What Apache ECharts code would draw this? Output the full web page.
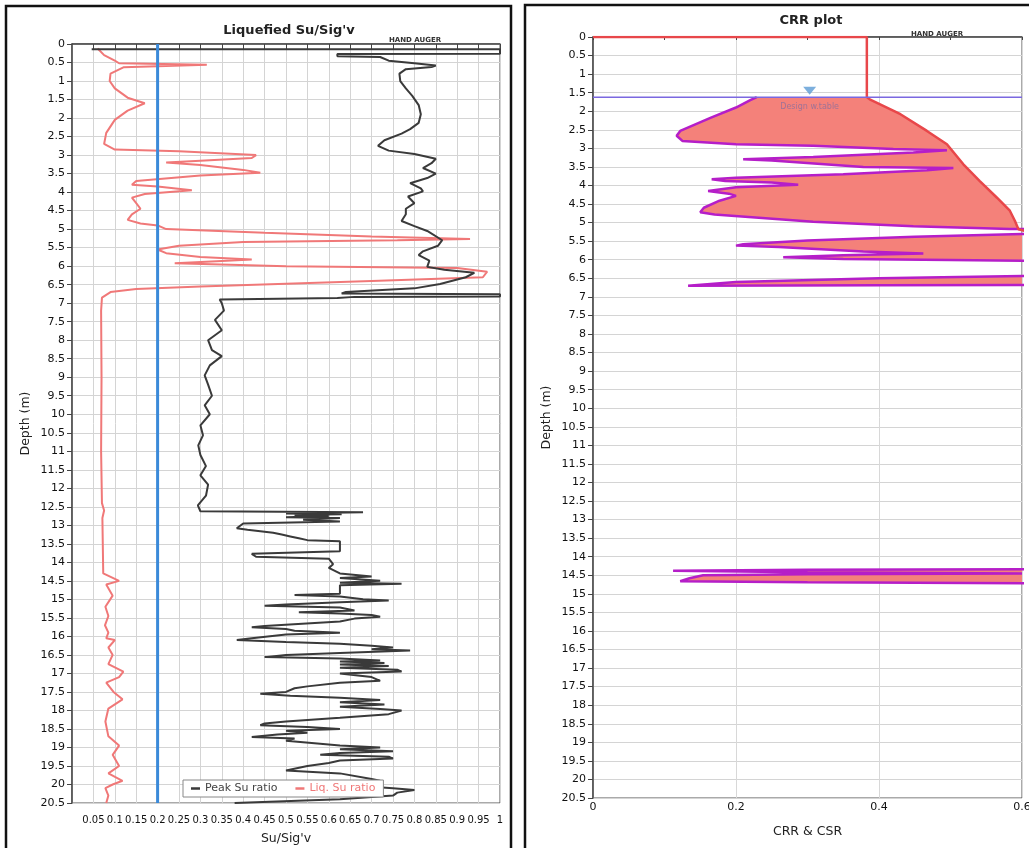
<!DOCTYPE html>
<html>
<head>
<meta charset="utf-8">
<title>Liquefied Su/Sig'v - CRR plot</title>
<script src="https://cdn.jsdelivr.net/npm/echarts@6/dist/echarts.min.js"></script>
<style>
html, body { margin: 0; padding: 0; background: #fff; }
#chart { width: 1029px; height: 848px; }
</style>
</head>
<body>
<div id="chart"></div>
<script>
/*** Liquefied Su/Sig'v + CRR plot ***/
// left chart: peak Su ratio (depth m, ratio)
var peakSuDepth = [0.14, 0.14, 0.26, 0.27, 0.33, 0.35, 0.45, 0.52, 0.58, 0.62, 0.68, 0.8, 1.0, 1.2, 1.4, 1.65, 1.9, 2.13, 2.3, 2.42, 2.6, 2.75, 2.88, 2.97, 3.1, 3.22, 3.35, 3.5, 3.62, 3.76, 3.9, 3.98, 4.12, 4.3, 4.45, 4.6, 4.78, 4.92, 5.05, 5.3, 5.45, 5.6, 5.7, 5.85, 6.02, 6.1, 6.18, 6.3, 6.48, 6.6, 6.7, 6.74, 6.76, 6.82, 6.83, 6.86, 6.9,
	7.0, 7.2, 7.45, 7.73, 8.0, 8.27, 8.43, 8.68, 8.95, 9.2, 9.5, 9.76, 10.0, 10.3, 10.57, 10.84, 11.1, 11.4, 11.65, 11.9, 12.2, 12.46, 12.62,
	12.65, 12.68, 12.7, 12.72, 12.75, 12.78, 12.8, 12.85, 12.9, 12.95, 13.08, 13.12, 13.2, 13.25, 13.3, 13.35, 13.4, 13.43, 13.7, 13.77, 13.85, 13.9, 14.05, 14.15, 14.3,
	14.38, 14.42, 14.5, 14.55, 14.58, 14.62, 14.85, 14.88, 14.92, 15.0, 15.03, 15.08, 15.14, 15.17, 15.22, 15.3, 15.35, 15.38, 15.42, 15.47, 15.52, 15.6,
	15.72, 15.75, 15.8, 15.85, 15.9, 15.95, 16.05, 16.1, 16.15, 16.2, 16.25, 16.3, 16.35, 16.38, 16.45, 16.5, 16.56, 16.6, 16.65, 16.68, 16.72, 16.76, 16.8, 16.85, 16.9, 16.95, 17.0,
	17.1, 17.2, 17.25, 17.35, 17.4, 17.5, 17.55, 17.6, 17.66, 17.72, 17.78, 17.84, 17.9, 17.96, 18.0, 18.1, 18.2, 18.3, 18.35, 18.4, 18.45, 18.5, 18.55, 18.6, 18.65, 18.72, 18.76, 18.82, 18.88, 18.95,
	19.0, 19.05, 19.1, 19.15, 19.2, 19.25, 19.3, 19.35, 19.42, 19.5, 19.62, 19.7, 19.85, 19.9, 20.0, 20.1, 20.15, 20.22, 20.3, 20.4, 20.5];
var peakSuRatio = [0.046, 1.0, 1.0, 0.62, 0.62, 0.72, 0.74, 0.8, 0.85, 0.84, 0.78, 0.765, 0.767, 0.78, 0.795, 0.81, 0.815, 0.81, 0.79, 0.77, 0.73, 0.715, 0.74, 0.8, 0.85, 0.84, 0.82, 0.85, 0.83, 0.79, 0.815, 0.82, 0.785, 0.8, 0.78, 0.78, 0.77, 0.8, 0.83, 0.865, 0.855, 0.82, 0.81, 0.835, 0.83, 0.87, 0.94, 0.92, 0.86, 0.8, 0.64, 0.63, 1.0, 1.0, 0.66, 0.62, 0.345,
	0.35, 0.355, 0.334, 0.35, 0.318, 0.327, 0.35, 0.322, 0.31, 0.318, 0.327, 0.31, 0.322, 0.3, 0.306, 0.295, 0.3, 0.313, 0.3, 0.318, 0.313, 0.294, 0.3,
	0.68, 0.5, 0.63, 0.52, 0.6, 0.5, 0.626, 0.54, 0.626, 0.4, 0.385, 0.41, 0.47, 0.49, 0.51, 0.53, 0.55, 0.626, 0.626, 0.42, 0.43, 0.6, 0.61, 0.6, 0.626,
	0.7, 0.626, 0.72, 0.626, 0.77, 0.626, 0.626, 0.52, 0.626, 0.68, 0.74, 0.626, 0.5, 0.45, 0.626, 0.66, 0.53, 0.626, 0.7, 0.72, 0.66, 0.626,
	0.45, 0.42, 0.5, 0.52, 0.626, 0.5, 0.42, 0.385, 0.5, 0.626, 0.7, 0.75, 0.7, 0.79, 0.626, 0.5, 0.45, 0.626, 0.72, 0.626, 0.73, 0.626, 0.74, 0.626, 0.76, 0.77, 0.626,
	0.7, 0.72, 0.626, 0.55, 0.52, 0.5, 0.44, 0.51, 0.626, 0.72, 0.626, 0.73, 0.626, 0.72, 0.77, 0.74, 0.626, 0.5, 0.45, 0.44, 0.55, 0.626, 0.5, 0.55, 0.48, 0.42, 0.52, 0.5, 0.56, 0.626,
	0.72, 0.626, 0.75, 0.626, 0.58, 0.74, 0.75, 0.626, 0.6, 0.55, 0.5, 0.626, 0.7, 0.72, 0.626, 0.75, 0.8, 0.76, 0.75, 0.626, 0.38];
// left chart: liquefied Su ratio
var liqSuDepth = [0.12, 0.3, 0.45, 0.52, 0.56, 0.6, 0.63, 0.8, 1.0, 1.2, 1.45, 1.6, 1.8, 2.05, 2.4, 2.7, 2.85, 2.9, 3.0, 3.08, 3.15, 3.2, 3.27, 3.4, 3.48, 3.55, 3.7, 3.8, 3.85, 3.95, 4.05, 4.15, 4.3, 4.45, 4.6, 4.75, 4.85, 4.9, 5.0, 5.1, 5.2, 5.27, 5.3, 5.35, 5.45, 5.55, 5.65, 5.75, 5.82, 5.86, 5.92, 6.0, 6.05, 6.15, 6.3, 6.4, 6.55, 6.62, 6.7, 6.85,
	7.2, 9.0, 11.0, 12.4, 12.6, 12.8, 14.3, 14.5, 14.6, 14.9, 15.2, 15.45, 15.7, 15.9, 16.05, 16.1, 16.3, 16.5, 16.75, 16.95, 17.1, 17.25, 17.5, 17.7, 17.95, 18.3, 18.7, 18.95, 19.2, 19.5, 19.7, 19.9, 20.0, 20.1, 20.3, 20.5];
var liqSuRatio = [0.06, 0.075, 0.1, 0.11, 0.315, 0.2, 0.12, 0.09, 0.088, 0.1, 0.13, 0.17, 0.13, 0.1, 0.08, 0.075, 0.1, 0.25, 0.43, 0.42, 0.3, 0.22, 0.3, 0.4, 0.44, 0.3, 0.15, 0.14, 0.2, 0.28, 0.17, 0.14, 0.15, 0.16, 0.14, 0.13, 0.16, 0.2, 0.22, 0.45, 0.7, 0.93, 0.76, 0.4, 0.25, 0.2, 0.22, 0.3, 0.42, 0.35, 0.24, 0.5, 0.9, 0.97, 0.96, 0.7, 0.3, 0.15, 0.09, 0.07,
	0.068, 0.069, 0.068, 0.07, 0.075, 0.071, 0.073, 0.11, 0.08, 0.095, 0.078, 0.085, 0.077, 0.085, 0.08, 0.1, 0.085, 0.095, 0.085, 0.12, 0.11, 0.08, 0.097, 0.118, 0.085, 0.078, 0.085, 0.11, 0.095, 0.11, 0.085, 0.118, 0.095, 0.078, 0.085, 0.08];
var liqThreshold = 0.2;

// right chart: CRR (magenta) and CSR (red), values > 0.6 fall outside the plot
var crrDepth = [1.62, 1.7, 1.9, 2.17, 2.53, 2.66, 2.8, 2.89, 2.93, 3.02, 3.05, 3.11, 3.23, 3.29, 3.33, 3.5, 3.53, 3.59, 3.7, 3.79, 3.83, 3.88, 3.92, 3.98, 4.05, 4.15, 4.22, 4.28, 4.41, 4.6, 4.72, 4.78, 4.98, 5.1, 5.17, 5.2,
	5.28, 5.31, 5.38, 5.48, 5.58, 5.62, 5.66, 5.78, 5.83, 5.88, 5.93, 5.98, 6.01, 6.03, 6.05,
	6.42, 6.44, 6.5, 6.6, 6.7, 6.69, 6.68, 6.7,
	14.33, 14.35, 14.38, 14.42, 14.45, 14.47, 14.5, 14.58, 14.66, 14.69, 14.72, 20.5];
var crrValue = [0.229, 0.22, 0.2, 0.165, 0.122, 0.117, 0.125, 0.2, 0.308, 0.42, 0.495, 0.448, 0.308, 0.21, 0.25, 0.378, 0.504, 0.467, 0.35, 0.2, 0.166, 0.185, 0.25, 0.287, 0.2, 0.161, 0.19, 0.2, 0.177, 0.155, 0.15, 0.17, 0.308, 0.448, 0.583, 0.7,
	0.7, 0.6, 0.45, 0.3, 0.21, 0.2, 0.26, 0.378, 0.462, 0.35, 0.266, 0.35, 0.5, 0.6, 0.7,
	0.7, 0.6, 0.4, 0.2, 0.133, 0.4, 0.6, 0.7,
	0.7, 0.3, 0.112, 0.3, 0.6, 0.3, 0.154, 0.135, 0.122, 0.3, 0.7, 0.7];
var csrDepth = [0, 0, 1.62, 1.68, 2.08, 2.53, 2.89, 3.43, 3.88, 4.33, 4.68, 4.95, 5.18, 5.3, 6.0, 8.0, 20.5];
var csrValue = [0, 0.383, 0.383, 0.387, 0.43, 0.467, 0.495, 0.518, 0.541, 0.565, 0.583, 0.59, 0.595, 0.62, 0.65, 0.7, 0.72];
var waterTableDepth = 1.62;
var waterMark = [0.303, 1.45];

function pairs(xs, ds) {
	return xs.map(function(x, i) { return [x, ds[i]]; });
}

var chart = echarts.init(document.getElementById('chart'));
var font = 'DejaVu Sans';

function depthAxis(grid, name) {
	return {
		type: 'value', gridIndex: grid, inverse: true, min: 0, max: 20.5, interval: 0.5,
		name: name, nameLocation: 'middle', nameGap: 40, nameRotate: 90,
		nameTextStyle: { fontSize: 12.5, color: '#222' },
		axisLine: { show: true, lineStyle: { color: '#444', width: 1.5 } },
		axisTick: { show: true, length: 5, lineStyle: { color: '#444' } },
		axisLabel: { fontSize: 11, color: '#111', margin: 7 },
		splitLine: { show: true, lineStyle: { color: '#d4d4d4', width: 1 } }
	};
}

var option = {
	animation: false,
	backgroundColor: '#fff',
	textStyle: { fontFamily: font },
	title: [{
		text: "Liquefied Su/Sig'v", left: 284, top: 19, textAlign: 'center',
		textStyle: { fontSize: 13, fontWeight: 'bold', color: '#222' }
	}, {
		text: 'CRR plot', left: 806, top: 9, textAlign: 'center',
		textStyle: { fontSize: 13, fontWeight: 'bold', color: '#222' }
	}],
	legend: {
		data: [
			{ name: 'Peak Su ratio', textStyle: { color: '#444' } },
			{ name: 'Liq. Su ratio', textStyle: { color: '#f07878' } }
		],
		left: 183, top: 780, orient: 'horizontal',
		icon: 'rect', itemWidth: 9, itemHeight: 2.5, itemGap: 18,
		padding: [3, 8], backgroundColor: '#fff', borderColor: '#888', borderWidth: 1,
		selectedMode: false,
		textStyle: { fontSize: 11 }
	},
	grid: [
		{ left: 72, top: 44, width: 428, height: 759, show: true, borderColor: '#555', borderWidth: 1, outerBoundsMode: 'none' },
		{ left: 593, top: 37, width: 429, height: 761, show: true, borderColor: '#555', borderWidth: 1, outerBoundsMode: 'none' }
	],
	xAxis: [{
		type: 'value', gridIndex: 0, min: 0, max: 1, interval: 0.05,
		name: "Su/Sig'v", nameLocation: 'middle', nameGap: 29,
		nameTextStyle: { fontSize: 12.5, color: '#222' },
		axisLine: { show: true, lineStyle: { color: '#444', width: 1.5 } },
		axisTick: { show: true, length: 5, lineStyle: { color: '#444' } },
		axisLabel: { fontSize: 10, color: '#111', margin: 12, showMinLabel: false },
		splitLine: { show: true, lineStyle: { color: '#d4d4d4', width: 1 } }
	}, {
		type: 'value', gridIndex: 1, min: 0, max: 0.6, interval: 0.2,
		name: 'CRR & CSR', nameLocation: 'middle', nameGap: 27,
		nameTextStyle: { fontSize: 12.5, color: '#222' },
		axisLine: { show: true, lineStyle: { color: '#444', width: 1.5 } },
		axisTick: { show: true, length: 3, lineStyle: { color: '#444' } },
		minorTick: { show: true, splitNumber: 2, length: 3, lineStyle: { color: '#444' } },
		axisLabel: { fontSize: 11, color: '#111', margin: 4 },
		splitLine: { show: true, lineStyle: { color: '#d8d8d8', width: 1 } }
	}],
	yAxis: [depthAxis(0, 'Depth (m)'), depthAxis(1, 'Depth (m)')],
	series: [{
		name: 'Liq. threshold',
		type: 'line', xAxisIndex: 0, yAxisIndex: 0, silent: true, showSymbol: false,
		data: [[liqThreshold, 0], [liqThreshold, 20.5]],
		lineStyle: { color: '#3b8ad9', width: 3 }, z: 4
	}, {
		name: 'Liq. Su ratio',
		type: 'line', xAxisIndex: 0, yAxisIndex: 0, showSymbol: false,
		data: pairs(liqSuRatio, liqSuDepth),
		itemStyle: { color: '#f07878' },
		lineStyle: { color: '#f07878', width: 2 }, z: 3
	}, {
		name: 'Peak Su ratio',
		type: 'line', xAxisIndex: 0, yAxisIndex: 0, showSymbol: false,
		data: pairs(peakSuRatio, peakSuDepth),
		itemStyle: { color: '#3a3a3a' },
		lineStyle: { color: '#3a3a3a', width: 2 }, z: 3
	}, {
		// liquefaction zone: between CRR and CSR
		name: 'fill',
		type: 'custom', xAxisIndex: 1, yAxisIndex: 1, clip: true, silent: true,
		data: [[crrValue[0], crrDepth[0]]],
		renderItem: function(params, api) {
			var pts = [], i;
			for (i = 0; i < crrValue.length; i++) pts.push(api.coord([crrValue[i], crrDepth[i]]));
			for (i = csrValue.length - 1; i >= 0; i--) {
				if (csrDepth[i] >= crrDepth[0]) pts.push(api.coord([csrValue[i], csrDepth[i]]));
			}
			return { type: 'polygon', shape: { points: pts }, style: { fill: '#f4817a' } };
		},
		z: 1
	}, {
		name: 'CRR',
		type: 'line', xAxisIndex: 1, yAxisIndex: 1, showSymbol: false,
		data: pairs(crrValue, crrDepth),
		lineStyle: { color: '#b51ec8', width: 2.5 }, z: 3
	}, {
		name: 'CSR',
		type: 'line', xAxisIndex: 1, yAxisIndex: 1, showSymbol: false,
		data: pairs(csrValue, csrDepth),
		lineStyle: { color: '#e8474a', width: 2.5 }, z: 4
	}, {
		name: 'Water table',
		type: 'line', xAxisIndex: 1, yAxisIndex: 1, showSymbol: false, silent: true,
		data: [[0, waterTableDepth], [0.6, waterTableDepth]],
		lineStyle: { color: '#7b68e0', width: 1.5 }, z: 5
	}, {
		name: 'Design w.table',
		type: 'scatter', xAxisIndex: 1, yAxisIndex: 1, silent: true,
		data: [waterMark],
		symbol: 'triangle', symbolRotate: 180, symbolSize: [13, 8],
		itemStyle: { color: '#5b9bd5' },
		label: { show: true, position: 'bottom', distance: 8, formatter: 'Design w.table', fontSize: 8, color: '#8a6f9e' },
		z: 6
	}],
	graphic: [
		{ type: 'rect', shape: { x: 6, y: 6, width: 505, height: 846 }, style: { fill: 'none', stroke: '#111', lineWidth: 2.5 }, silent: true },
		{ type: 'rect', shape: { x: 525, y: 5, width: 520, height: 846 }, style: { fill: 'none', stroke: '#111', lineWidth: 2.5 }, silent: true },
		{ type: 'text', x: 415, y: 40, style: { text: 'HAND AUGER', fontSize: 7, fontWeight: 'bold', fill: '#333', align: 'center', verticalAlign: 'middle', fontFamily: font } },
		{ type: 'text', x: 937, y: 34, style: { text: 'HAND AUGER', fontSize: 7, fontWeight: 'bold', fill: '#333', align: 'center', verticalAlign: 'middle', fontFamily: font } }
	]
};
chart.setOption(option);
</script>
</body>
</html>
